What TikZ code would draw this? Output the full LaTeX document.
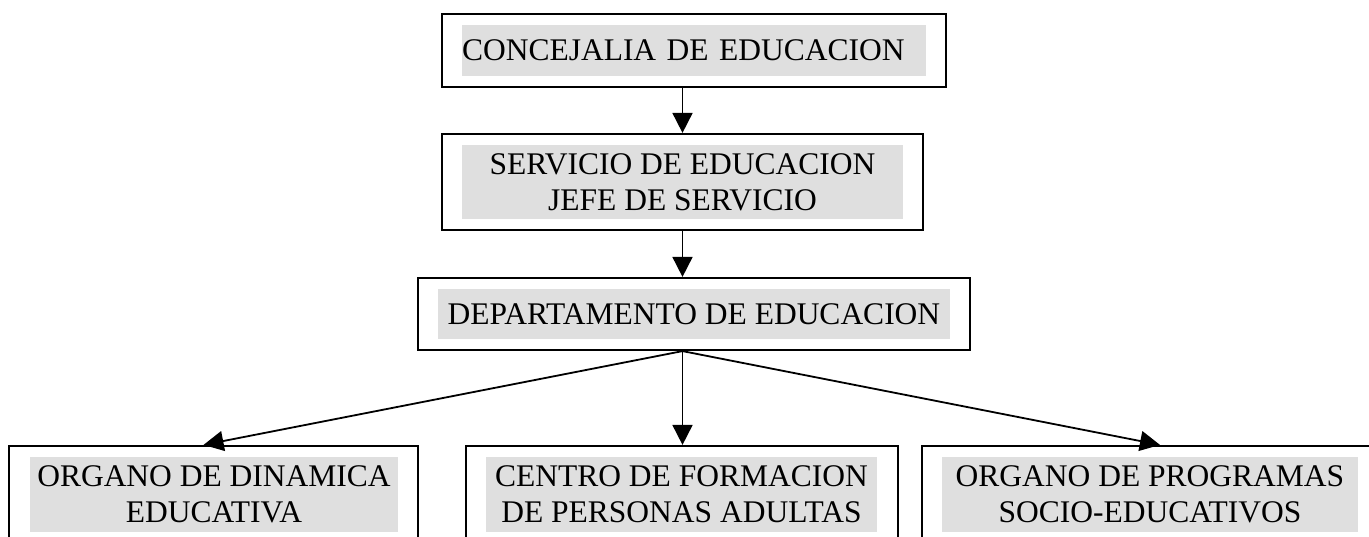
\documentclass[tikz,border=0pt]{standalone}
\usepackage{fontspec}
\setmainfont{Liberation Serif}
\usetikzlibrary{arrows.meta,calc}
\definecolor{hl}{RGB}{223,223,223}
\begin{document}
\begin{tikzpicture}[x=1pt,y=-1pt,
  outerbox/.style={draw=black,line width=2.2pt,inner sep=0pt,fill=white},
  greybox/.style={fill=hl,inner sep=0pt,align=center,font=\fontsize{31.5}{36}\selectfont},
  arr/.style={line width=1.8pt,-{Triangle[length=20pt,width=20pt]}}]
\useasboundingbox (0,0) rectangle (1369,536);
\clip (0,0) rectangle (1369,536);
\fill[white] (0,0) rectangle (1369,536);
% boxes
\node[outerbox,minimum width=504pt,minimum height=73pt] (b1) at (694,50.5) {};
\node[greybox,minimum height=51pt,text width=464pt,align=left] (g1) at (694,50.5) {CONCEJALIA DE EDUCACION};
\node[outerbox,minimum width=481pt,minimum height=96pt] (b2) at (682.5,182) {};
\node[greybox,minimum width=441pt,minimum height=74pt] (g2) at (682.5,182) {SERVICIO DE EDUCACION\\JEFE DE SERVICIO};
\node[outerbox,minimum width=552pt,minimum height=72pt] (b3) at (694,314) {};
\node[greybox,minimum width=512pt,minimum height=50pt] (g3) at (694,314) {DEPARTAMENTO DE EDUCACION};
\node[outerbox,minimum width=409pt,minimum height=114pt] (b4) at (213.5,503) {};
\node[greybox,minimum width=368pt,minimum height=75pt] (g4) at (214,494.5) {ORGANO DE DINAMICA\\EDUCATIVA};
\node[outerbox,minimum width=432pt,minimum height=114pt] (b5) at (682,503) {};
\node[greybox,minimum width=391pt,minimum height=75pt] (g5) at (681.5,494.5) {CENTRO DE FORMACION\\DE PERSONAS ADULTAS};
\node[outerbox,minimum width=468pt,minimum height=114pt] (b6) at (1156,503) {};
\node[greybox,minimum width=416pt,minimum height=75pt] (g6) at (1150,494.5) {ORGANO DE PROGRAMAS\\SOCIO-EDUCATIVOS};
% connectors
\draw[arr] (b2.north |- b1.south) -- (b2.north);
\draw[arr] (b2.south) -- (b2.south |- b3.north);
\coordinate (src) at (b2.south |- b3.south);
\draw[arr] (src) -- ($(b4.north)+(-10,0)$);
\draw[arr] (src) -- (src |- b5.north);
\draw[arr] (src) -- ($(b6.north)+(4,0)$);
\end{tikzpicture}
\end{document}
